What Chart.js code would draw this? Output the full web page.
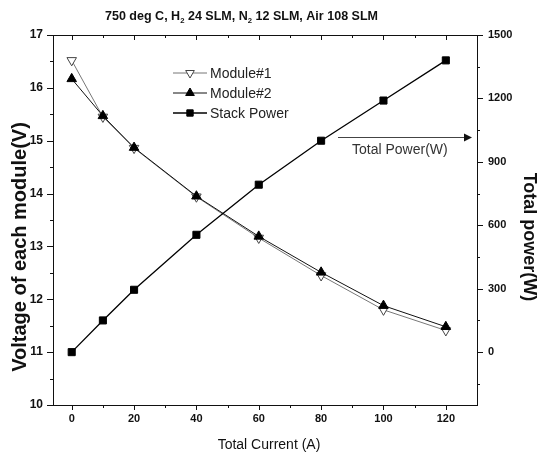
<!DOCTYPE html>
<html>
<head>
<meta charset="utf-8">
<script src="https://cdn.jsdelivr.net/npm/chart.js@4"></script>
<style>
  html, body { margin: 0; padding: 0; background: #fff; }
  canvas { display: block; }
</style>
</head>
<body>
<canvas id="grafico" width="537" height="465"></canvas>
<script>
// dados
const currents = [0, 10, 20, 40, 60, 80, 100, 120];
const module1 = [16.52, 15.45, 14.86, 13.94, 13.16, 12.45, 11.80, 11.41];
const module2 = [16.17, 15.47, 14.87, 13.95, 13.19, 12.51, 11.88, 11.48];
const stackPower = [0, 150, 295, 555, 792, 1000, 1190, 1380];
const currentTicks = [0, 20, 40, 60, 80, 100, 120];
const voltageTicks = [10, 11, 12, 13, 14, 15, 16, 17];
const powerTicks = [0, 300, 600, 900, 1200, 1500];
const seriesNames = ['Module#1', 'Module#2', 'Stack Power'];

const NARROW = "'Liberation Sans Narrow', 'Liberation Sans', Arial, sans-serif";
const SANS = "'Liberation Sans', Arial, sans-serif";

const toPoints = ys => currents.map((c, i) => ({ x: c, y: ys[i] }));

// moldura, marcas menores, legenda e textos
const decor = {
    id: 'decor',
    afterDraw(chart) {
        const { ctx, chartArea: a, scales: { x, y, y2 } } = chart;
        ctx.save();
        ctx.strokeStyle = '#111';
        ctx.lineWidth = 1;
        ctx.strokeRect(a.left + 0.5, a.top + 0.5, a.right - a.left, a.bottom - a.top);

        ctx.beginPath();
        for (let v = 0; v <= 120; v += 10) {
            const px = Math.round(x.getPixelForValue(v)) + 0.5;
            const len = v % 20 === 0 ? 5 : 3;
            ctx.moveTo(px, a.bottom); ctx.lineTo(px, a.bottom + len);
            ctx.moveTo(px, a.top); ctx.lineTo(px, a.top + len);
        }
        for (let v = 10; v <= 17; v += 0.5) {
            const py = Math.round(y.getPixelForValue(v)) + 0.5;
            const len = Number.isInteger(v) ? 6 : 3;
            ctx.moveTo(a.left - len, py); ctx.lineTo(a.left, py);
        }
        for (let w = -150; w <= 1500; w += 150) {
            const py = Math.round(y2.getPixelForValue(w)) + 0.5;
            const len = w % 300 === 0 ? 6 : 3;
            ctx.moveTo(a.right, py); ctx.lineTo(a.right + len, py);
        }
        ctx.stroke();

        // legenda
        chart.data.datasets.forEach((ds, i) => {
            const ly = 73 + i * 20;
            ctx.strokeStyle = ds.borderColor;
            ctx.lineWidth = ds.borderWidth;
            ctx.beginPath();
            ctx.moveTo(173, ly); ctx.lineTo(207, ly);
            ctx.stroke();
            ctx.fillStyle = ds.pointBackgroundColor;
            ctx.strokeStyle = ds.pointBorderColor;
            ctx.lineWidth = 1;
            Chart.helpers.drawPoint(ctx, {
                pointStyle: ds.pointStyle, rotation: ds.pointRotation,
                radius: ds.pointRadius - 0.5, borderWidth: 1
            }, 190, ly);
            ctx.fillStyle = '#222';
            ctx.font = '14px ' + SANS;
            ctx.textAlign = 'left';
            ctx.textBaseline = 'middle';
            ctx.fillText(ds.label, 210, ly + 1);
        });

        // seta "Total Power(W)"
        ctx.strokeStyle = '#444';
        ctx.lineWidth = 1;
        ctx.beginPath();
        ctx.moveTo(338, 137.5); ctx.lineTo(466, 137.5);
        ctx.stroke();
        ctx.fillStyle = '#111';
        ctx.beginPath();
        ctx.moveTo(472, 137.5); ctx.lineTo(464, 133.5); ctx.lineTo(464, 141.5);
        ctx.closePath(); ctx.fill();
        ctx.fillStyle = '#333';
        ctx.font = '14px ' + SANS;
        ctx.textAlign = 'left';
        ctx.textBaseline = 'alphabetic';
        ctx.fillText('Total Power(W)', 352, 154);

        // títulos dos eixos
        ctx.fillStyle = '#111';
        ctx.textAlign = 'center';
        ctx.font = '14px ' + SANS;
        ctx.fillText('Total Current (A)', 269, 449);

        ctx.save();
        ctx.translate(26, 247);
        ctx.rotate(-Math.PI / 2);
        ctx.font = 'bold 20px ' + SANS;
        ctx.fillText('Voltage of each module(V)', 0, 0);
        ctx.restore();

        ctx.save();
        ctx.translate(524, 237);
        ctx.rotate(Math.PI / 2);
        ctx.font = 'bold 18px ' + SANS;
        ctx.fillText('Total power(W)', 0, 0);
        ctx.restore();

        // título com subscritos
        const parts = [['750 deg C, H', false], ['2', true], [' 24 SLM, N', false], ['2', true], [' 12 SLM, Air 108 SLM', false]];
        const mainFont = 'bold 13px ' + NARROW, subFont = 'bold 8px ' + NARROW;
        let total = 0;
        parts.forEach(([t, sub]) => { ctx.font = sub ? subFont : mainFont; total += ctx.measureText(t).width; });
        ctx.save();
        ctx.translate(105, 19.5);
        ctx.scale(273 / total, 1);
        ctx.textAlign = 'left';
        let cx = 0;
        parts.forEach(([t, sub]) => {
            ctx.font = sub ? subFont : mainFont;
            ctx.fillText(t, cx, sub ? 3 : 0);
            cx += ctx.measureText(t).width;
        });
        ctx.restore();

        ctx.restore();
    }
};

const ctx = document.getElementById('grafico');

new Chart(ctx, {
    type: 'line',
    data: {
        datasets: [
            {
                label: seriesNames[0],
                data: toPoints(module1),
                yAxisID: 'y',
                borderColor: '#777',
                borderWidth: 1,
                pointStyle: 'triangle',
                pointRotation: 180,
                pointRadius: 5.5,
                pointBackgroundColor: '#fff',
                pointBorderColor: '#444',
                pointBorderWidth: 1,
                order: 2
            },
            {
                label: seriesNames[1],
                data: toPoints(module2),
                yAxisID: 'y',
                borderColor: '#111',
                borderWidth: 1,
                pointStyle: 'triangle',
                pointRotation: 0,
                pointRadius: 5.5,
                pointBackgroundColor: '#000',
                pointBorderColor: '#000',
                pointBorderWidth: 1,
                order: 1
            },
            {
                label: seriesNames[2],
                data: toPoints(stackPower),
                yAxisID: 'y2',
                borderColor: '#000',
                borderWidth: 1.3,
                pointStyle: 'rect',
                pointRotation: 0,
                pointRadius: 5,
                pointBackgroundColor: '#000',
                pointBorderColor: '#000',
                pointBorderWidth: 1,
                order: 0
            }
        ]
    },
    options: {
        responsive: false,
        animation: false,
        layout: { padding: { top: 35, left: 0, right: 0, bottom: 0 } },
        plugins: {
            legend: { display: false },
            tooltip: { enabled: false },
            title: { display: false }
        },
        scales: {
            x: {
                type: 'linear',
                min: -6,
                max: 130,
                afterBuildTicks: s => { s.ticks = currentTicks.map(v => ({ value: v })); },
                afterFit: s => { s.height = 60; },
                grid: { display: false, drawTicks: false },
                border: { display: false },
                ticks: { padding: 7, color: '#111', callback: v => String(v), font: { family: NARROW, size: 11, weight: 'bold' } }
            },
            y: {
                position: 'left',
                min: 10,
                max: 17,
                afterBuildTicks: s => { s.ticks = voltageTicks.map(v => ({ value: v })); },
                afterFit: s => { s.width = 53; },
                grid: { display: false, drawTicks: false },
                border: { display: false },
                ticks: { padding: 10, color: '#111', callback: v => String(v), font: { family: NARROW, size: 12, weight: 'bold' } }
            },
            y2: {
                position: 'right',
                min: -250,
                max: 1500,
                afterBuildTicks: s => { s.ticks = powerTicks.map(v => ({ value: v })); },
                afterFit: s => { s.width = 60; },
                grid: { display: false, drawTicks: false },
                border: { display: false },
                ticks: { padding: 11, color: '#111', callback: v => String(v), font: { family: NARROW, size: 11, weight: 'bold' } }
            }
        }
    },
    plugins: [decor]
});
</script>
</body>
</html>
